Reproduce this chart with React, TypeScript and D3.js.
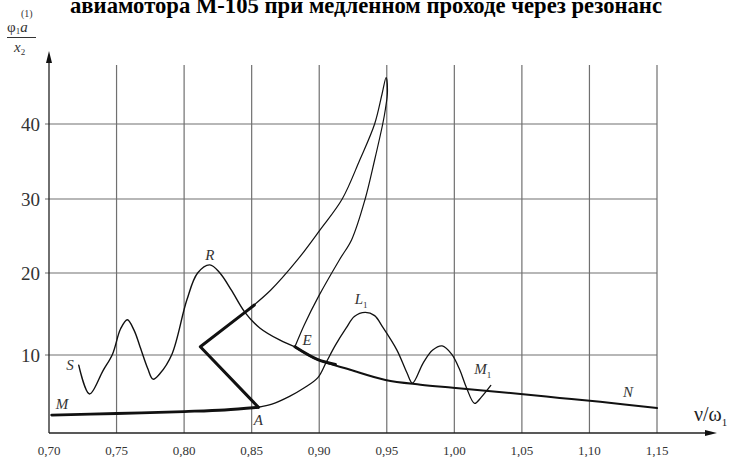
import React, { useRef, useEffect } from 'react';
import * as d3 from 'd3';

type Pt = [number, number];

const title = 'авиамотора М-105 при медленном проходе через резонанс';

const xTicks = [0.70, 0.75, 0.80, 0.85, 0.90, 0.95, 1.00, 1.05, 1.10, 1.15];
const yTicks = [10, 20, 30, 40];

// M -> A, lower stable branch (thick)
const branchMA: Pt[] = [[0.702, 2.3], [0.75, 2.5], [0.80, 2.75], [0.83, 2.95], [0.855, 3.3]];

// A -> turning point -> up, thick part of the backbone
const branchTurn: Pt[] = [[0.855, 3.3], [0.812, 11.0], [0.845, 15.2], [0.852, 16.1]];

// backbone loop: left side up to the tip, right side down to E
const loop: Pt[] = [
  [0.845, 15.2], [0.864, 17.9], [0.884, 21.8], [0.9005, 25.8], [0.917, 30.0],
  [0.930, 35.2], [0.941, 40.0], [0.9465, 44.0], [0.9495, 46.2], [0.9505, 44.3],
  [0.949, 42.0], [0.947, 40.0], [0.941, 35.2], [0.934, 30.0], [0.924, 24.5],
  [0.915, 21.8], [0.900, 17.3], [0.889, 13.7], [0.882, 11.0],
];

// E joins the decay curve
const branchE: Pt[] = [[0.882, 11.0], [0.899, 9.4], [0.912, 8.8]];

// S - R - decay curve, thin up to E
const curveSR: Pt[] = [
  [0.722, 8.7], [0.730, 5.0], [0.740, 8.0], [0.747, 10.1], [0.753, 13.2], [0.758, 14.3],
  [0.763, 13.0], [0.767, 11.2], [0.773, 8.3], [0.777, 6.9], [0.782, 7.6], [0.791, 10.1],
  [0.802, 16.7], [0.810, 20.0], [0.819, 21.1], [0.8265, 20.0], [0.835, 17.9],
  [0.845, 15.2], [0.856, 13.3], [0.871, 11.8], [0.882, 11.0],
];

// decay from E to N
const curveEN: Pt[] = [
  [0.882, 11.0], [0.899, 9.4], [0.923, 8.1], [0.949, 6.8], [0.975, 6.2], [0.999, 5.8],
  [1.049, 5.0], [1.078, 4.5], [1.108, 4.0], [1.15, 3.2],
];

// A - L1 - M1 beat curve
const curveAL: Pt[] = [
  [0.855, 3.3], [0.865, 3.7], [0.878, 4.7], [0.889, 5.8], [0.899, 7.1], [0.905, 9.0],
  [0.912, 11.2], [0.920, 13.3], [0.926, 14.7], [0.934, 15.2], [0.941, 14.8],
  [0.947, 13.4], [0.9575, 10.6], [0.965, 7.7], [0.969, 6.4], [0.977, 9.0],
  [0.984, 10.6], [0.991, 11.1], [0.998, 10.1], [1.004, 8.1], [1.009, 5.8],
  [1.015, 3.8], [1.020, 4.6], [1.027, 6.1],
];

const pointLabels: { text: string; sub?: string; at: Pt }[] = [
  { text: 'S', at: [0.7155, 8.7] },
  { text: 'R', at: [0.819, 22.5] },
  { text: 'E', at: [0.891, 11.8] },
  { text: 'L', sub: '1', at: [0.931, 16.8] },
  { text: 'M', sub: '1', at: [1.021, 8.3] },
  { text: 'N', at: [1.1285, 5.3] },
  { text: 'M', at: [0.7096, 3.8] },
  { text: 'A', at: [0.855, 1.7] },
];

const fmt = d3.formatLocale({ decimal: ',', thousands: ' ', grouping: [3], currency: ['', ''] }).format('.2f');

const FONT = 'Liberation Serif, DejaVu Serif, serif';

const Chart = ({ width, height }: { width: number; height: number }) => {
  const ref = useRef<SVGSVGElement>(null);

  useEffect(() => {
    const svg = d3.select(ref.current);
    svg.selectAll('*').remove();

    const x = d3.scaleLinear().domain([0.70, 1.15]).range([49, 657]);
    // scan is a bit uneven, so the gridlines are pinned where they sit
    const y = d3.scaleLinear().domain([0, 10, 20, 30, 40]).range([433, 355, 273, 199, 124]);

    svg.append('text')
      .attr('x', 366).attr('y', 13)
      .attr('text-anchor', 'middle')
      .style('font-family', FONT).attr('font-weight', 'bold').attr('font-size', 23)
      .attr('textLength', 592).attr('lengthAdjust', 'spacingAndGlyphs')
      .text(title);

    // grid
    const grid = svg.append('g').attr('stroke', '#707070').attr('stroke-width', 1.2);
    grid.selectAll(null).data(xTicks.slice(1)).enter().append('line')
      .attr('x1', d => x(d)).attr('x2', d => x(d))
      .attr('y1', 65).attr('y2', y(0));
    grid.selectAll(null).data(yTicks).enter().append('line')
      .attr('x1', x(0.70) - 4).attr('x2', x(1.15))
      .attr('y1', d => y(d)).attr('y2', d => y(d));

    // axes with arrows
    const ax = svg.append('g').attr('stroke', '#222').attr('stroke-width', 1.3);
    ax.append('line').attr('x1', x(0.70)).attr('x2', 708).attr('y1', y(0)).attr('y2', y(0));
    ax.append('line').attr('x1', x(0.70)).attr('x2', x(0.70)).attr('y1', y(0)).attr('y2', 58);
    svg.append('path').attr('fill', '#111')
      .attr('d', `M${x(0.70)},51 L${x(0.70) - 3},63 L${x(0.70) + 3},63 Z`);
    svg.append('path').attr('fill', '#111')
      .attr('d', `M717,${y(0)} L705,${y(0) - 3} L705,${y(0) + 3} Z`);

    // tick labels
    svg.append('g').selectAll('text').data(xTicks).enter().append('text')
      .attr('x', d => x(d)).attr('y', 455)
      .attr('text-anchor', 'middle')
      .style('font-family', FONT).attr('font-size', 13).attr('fill', '#333')
      .text(d => fmt(d));
    svg.append('g').selectAll('text').data(yTicks).enter().append('text')
      .attr('x', 40).attr('y', d => y(d) + 6.5)
      .attr('text-anchor', 'end')
      .style('font-family', FONT).attr('font-size', 19).attr('fill', '#333')
      .text(d => d);

    // axis titles
    const xl = svg.append('text').attr('x', 694).attr('y', 421)
      .style('font-family', FONT).attr('font-size', 20).attr('fill', '#222');
    xl.append('tspan').text('ν/ω');
    xl.append('tspan').attr('font-size', 11).attr('dy', 5).text('1');

    const yl = svg.append('g').style('font-family', FONT).attr('fill', '#333');
    yl.append('text').attr('x', 21).attr('y', 17).attr('font-size', 10).text('(1)');
    const num = yl.append('text').attr('x', 7).attr('y', 32).attr('font-size', 15);
    num.append('tspan').text('φ');
    num.append('tspan').attr('font-size', 9).attr('dy', 2).text('1');
    num.append('tspan').attr('dy', -2).attr('font-style', 'italic').text('a');
    yl.append('line').attr('x1', 7).attr('x2', 36).attr('y1', 37.5).attr('y2', 37.5)
      .attr('stroke', '#333').attr('stroke-width', 1);
    const den = yl.append('text').attr('x', 14).attr('y', 52).attr('font-size', 15);
    den.append('tspan').attr('font-style', 'italic').text('x');
    den.append('tspan').attr('font-size', 9).attr('dy', 3).text('2');

    // curves
    const smooth = d3.line<Pt>().x(d => x(d[0])).y(d => y(d[1])).curve(d3.curveCatmullRom.alpha(0.5));
    const straight = d3.line<Pt>().x(d => x(d[0])).y(d => y(d[1]));
    const curves = svg.append('g').attr('fill', 'none').attr('stroke', '#111')
      .attr('stroke-linejoin', 'round').attr('stroke-linecap', 'round');

    curves.append('path').attr('d', smooth(loop)).attr('stroke-width', 1.2);
    curves.append('path').attr('d', smooth(curveSR)).attr('stroke-width', 1.4);
    curves.append('path').attr('d', smooth(curveAL)).attr('stroke-width', 1.3);
    curves.append('path').attr('d', smooth(curveEN)).attr('stroke-width', 2);
    curves.append('path').attr('d', smooth(branchE)).attr('stroke-width', 3);
    curves.append('path').attr('d', smooth(branchMA)).attr('stroke-width', 2.8);
    curves.append('path').attr('d', straight(branchTurn)).attr('stroke-width', 3);

    // point labels
    const lbl = svg.append('g').style('font-family', FONT).attr('font-style', 'italic')
      .attr('font-size', 15).attr('fill', '#333');
    pointLabels.forEach(p => {
      const t = lbl.append('text').attr('x', x(p.at[0])).attr('y', y(p.at[1]))
        .attr('dy', '0.35em').attr('text-anchor', 'middle');
      t.append('tspan').text(p.text);
      if (p.sub) t.append('tspan').attr('font-size', 9).attr('font-style', 'normal').attr('dy', 4).text(p.sub);
    });

    return () => {
      svg.selectAll('*').remove();
    };
  }, []);

  return (
    <svg ref={ref} width={width} height={height}
      style={{ position: 'absolute', left: 0, top: 0, background: '#fff' }} />
  );
};

export default function App() {
  return <Chart width={733} height={457} />;
}
